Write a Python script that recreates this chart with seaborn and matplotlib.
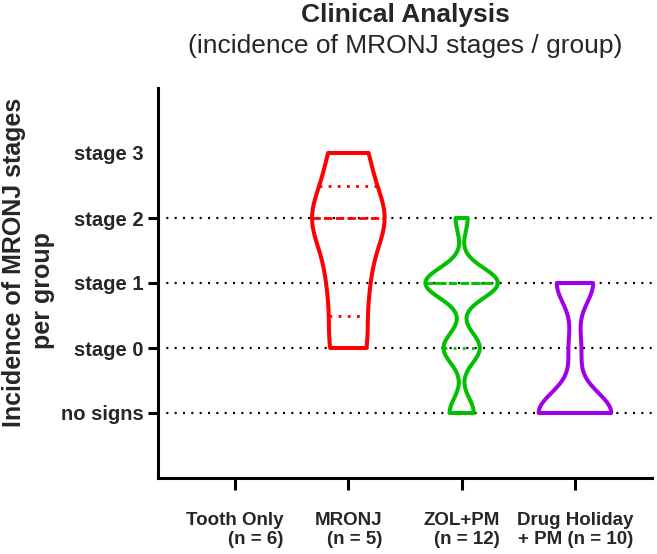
import numpy as np
import pandas as pd
import matplotlib
matplotlib.use("Agg")
import matplotlib.pyplot as plt
import seaborn as sns

# ---------------- data ----------------
groups = ["Tooth Only", "MRONJ", "ZOL+PM", "Drug Holiday + PM"]
group_tick_labels = ["Tooth Only\n(n = 6)", "MRONJ\n(n = 5)",
                     "ZOL+PM\n(n = 12)", "Drug Holiday\n+ PM (n = 10)"]
stage_levels = [0, 1, 2, 3, 4]
stage_labels = ["no signs", "stage 0", "stage 1", "stage 2", "stage 3"]
grid_levels = [0, 1, 2, 3]

# per-animal stage scores (0 = no signs, 1 = stage 0, ... 4 = stage 3)
tooth_only = [0, 0, 0, 0, 0, 0]
mronj = [1, 2, 3, 3, 4]
zol_pm = [0, 0, 1, 1, 1, 2, 2, 2, 2, 2, 2, 3]
drug_holiday_pm = [0, 0, 0, 0, 0, 0, 1, 2, 2, 2]

title = "Clinical Analysis"
subtitle = "(incidence of MRONJ stages / group)"
ylabel_lines = ["Incidence of MRONJ stages", "per group"]

# ---------------- style ----------------
colors = ["#000000", "#FF0000", "#00C000", "#A100E6"]
bw_adjusts = [1.0, 0.6, 0.42, 0.54]

sns.set_theme(style="ticks")
plt.rcParams["font.family"] = ["Liberation Sans", "DejaVu Sans"]

series = [tooth_only, mronj, zol_pm, drug_holiday_pm]
df = pd.DataFrame({
    "group": np.repeat(groups, [len(s) for s in series]),
    "stage": np.concatenate([np.asarray(s, dtype=float) for s in series]),
})

W, H = 657, 554
fig = plt.figure(figsize=(W / 100, H / 100), dpi=100)
ax = fig.add_axes([158 / W, 1 - 478 / H, (652 - 158) / W, (478 - 88) / H])


def extent_at(verts, v):
    xs = []
    for (x0, y0), (x1, y1) in zip(verts[:-1], verts[1:]):
        if y0 == y1:
            if abs(y0 - v) < 1e-9:
                xs += [x0, x1]
            continue
        if (y0 - v) * (y1 - v) <= 0:
            t = (v - y0) / (y1 - y0)
            xs.append(x0 + t * (x1 - x0))
    return min(xs), max(xs)


for g, color, bw in zip(groups, colors, bw_adjusts):
    sub = df[df["group"] == g]
    if sub["stage"].nunique() < 2:
        continue
    n_before = len(ax.collections)
    sns.violinplot(data=sub, x="group", y="stage", order=groups, color=color,
                   fill=False, linewidth=2.9, cut=0, bw_adjust=bw,
                   density_norm="width", width=0.64, inner=None, ax=ax,
                   zorder=3)
    poly = ax.collections[n_before]
    verts = poly.get_paths()[0].vertices
    q1, med, q3 = np.percentile(sub["stage"], [25, 50, 75], method="weibull")
    for val, dash in [(q1, (1.0, 2.3)), (q3, (1.0, 2.3)), (med, (3.0, 1.2))]:
        x0, x1 = extent_at(verts, val)
        ax.plot([x0, x1], [val, val], color=color, lw=2.0,
                dashes=dash, solid_capstyle="butt", dash_capstyle="butt",
                zorder=4)

# gridlines
for gl in grid_levels:
    ax.axhline(gl, color="black", lw=1.6, dashes=(0.9, 2.85),
               dash_capstyle="butt", zorder=1)

ax.set_xlim(-0.68, 3.68)
ax.set_ylim(-1, 5)
ax.set_xlabel("")
ax.set_ylabel("")

# y ticks: major with marks for grid levels, stage 3 label without mark
ax.set_yticks(grid_levels)
ax.set_yticklabels([stage_labels[i] for i in grid_levels])
ax.set_yticks([stage_levels[-1]], minor=True)
ax.set_yticklabels([stage_labels[-1]], minor=True)
for lab in ax.get_yticklabels(which="both"):
    lab.set_fontweight("bold")
    lab.set_fontsize(14.5)
ax.tick_params(axis="y", which="major", length=7.5, width=2.2, pad=3,
               color="black")
ax.tick_params(axis="y", which="minor", length=0, pad=3 + 7.5)

ax.set_xticks(range(len(groups)))
ax.set_xticklabels(group_tick_labels, fontweight="bold", fontsize=13.5,
                   multialignment="right", linespacing=1.15)
ax.tick_params(axis="x", length=8.5, width=2.2, pad=16, color="black")

for side in ["top", "right"]:
    ax.spines[side].set_visible(False)
for side in ["left", "bottom"]:
    ax.spines[side].set_linewidth(2.2)
    ax.spines[side].set_color("black")

fig.text(405 / W, 1 - 22 / H, title, ha="center", va="baseline",
         fontsize=19, fontweight="bold")
fig.text(405 / W, 1 - 53 / H, subtitle, ha="center", va="baseline",
         fontsize=19)
fig.text(14 / W, 1 - 262 / H, ylabel_lines[0], rotation=90, ha="center",
         va="center", fontsize=18, fontweight="bold")
fig.text(43 / W, 1 - 291 / H, ylabel_lines[1], rotation=90, ha="center",
         va="center", fontsize=18, fontweight="bold")

fig.savefig("out.png", dpi=100)
